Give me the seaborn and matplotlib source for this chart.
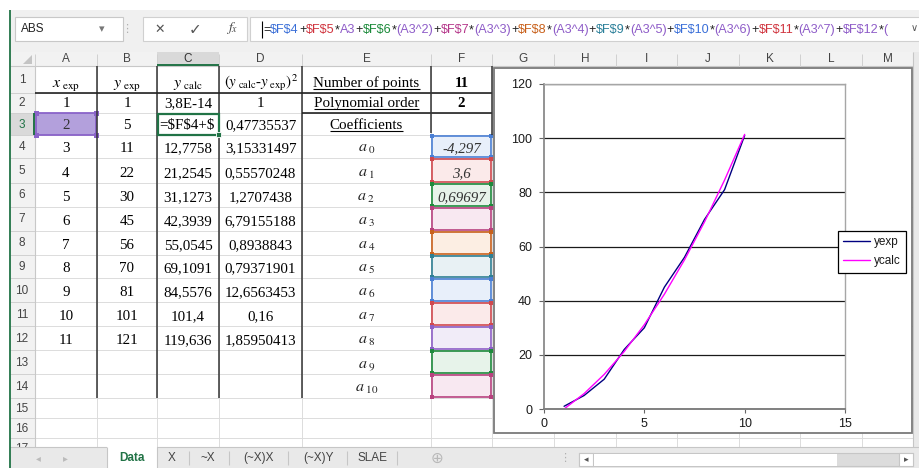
import matplotlib
matplotlib.use('Agg')
import matplotlib.pyplot as plt
import seaborn as sns
import pandas as pd
from matplotlib.patches import Rectangle, Polygon
from matplotlib.transforms import Bbox, TransformedBbox

# ---------------- data ----------------
x_exp = [1, 2, 3, 4, 5, 6, 7, 8, 9, 10, 11]
y_exp = [1, 5, 11, 22, 30, 45, 56, 70, 81, 101, 121]
y_calc = [3.8e-14, 5.6909, 12.7758, 21.2545, 31.1273, 42.3939, 55.0545,
          69.1091, 84.5576, 101.4, 119.636]
sq_err = [1, 0.47735537, 3.15331497, 0.55570248, 1.2707438, 6.79155188,
          0.8938843, 0.79371901, 12.6563453, 0.16, 1.85950413]
n_points = 11
poly_order = 2
coefficients = [-4.297, 3.6, 0.69697]
chart_points = 10
series_names = ['yexp', 'ycalc']
x_ticks = [0, 5, 10, 15]
y_ticks = [0, 20, 40, 60, 80, 100, 120]
col_letters = list('ABCDEFGHIJKLM')
sheet_tabs = ['Data', 'X', '~X', '(~X)X', '(~X)Y', 'SLAE']
info_labels = ['Number of points', 'Polynomial order', 'Coefficients']
active_formula_visible = '=$F$4+$'

sns.set_theme(style='white')
plt.rcParams['font.family'] = ['Liberation Sans', 'DejaVu Sans']
plt.rcParams['mathtext.fontset'] = 'stix'

W, H = 919, 468
fig = plt.figure(figsize=(W / 100, H / 100), dpi=100)
bg = fig.add_axes([0, 0, 1, 1])
bg.set_xlim(0, W)
bg.set_ylim(H, 0)
bg.axis('off')


def rect(x0, y0, x1, y1, fc='none', ec='none', lw=0.8, z=1):
    p = Rectangle((x0, y0), x1 - x0, y1 - y0, facecolor=fc, edgecolor=ec,
                  linewidth=lw, zorder=z)
    bg.add_patch(p)
    return p


def line(xs, ys, c, lw=0.8, z=2):
    bg.plot(xs, ys, color=c, lw=lw, zorder=z, solid_capstyle='butt')


def txt(x, y, s, size=10.8, family='Liberation Serif', ha='center',
        va='baseline', color='black', z=5, **kw):
    return bg.text(x, y, s, fontsize=size, family=family, ha=ha, va=va,
                   color=color, zorder=z, **kw)


renderer = fig.canvas.get_renderer()


def extent(t):
    bb = t.get_window_extent(renderer=renderer)
    return bb.x0, bb.x1


# reference colours
C_BLUE, C_RED, C_PURP = '#3A6FD8', '#D0343E', '#8E5CC8'
C_GREEN, C_MAG, C_ORNG, C_TEAL = '#1B8A3A', '#B5378A', '#C8601A', '#2A7F99'
XL_GREEN = '#217346'

# ---------------- chrome ----------------
rect(0, 0, W, H, 'white', z=0)
rect(10, 10, W, 52, '#F0F0F0', z=0.5)
rect(15, 17, 123, 41, 'white', '#C8C8C8')
txt(21, 29, 'ABS', size=8.5, family='Liberation Sans', ha='left', va='center', color='#222')
txt(102, 29, '\u25BE', size=8, family='DejaVu Sans', va='center', color='#777')
txt(127, 29, '\u22EE', size=8, family='DejaVu Sans', va='center', color='#B0B0B0')
rect(143, 17, 247, 41, 'white', '#D0D0D0')
txt(160, 29, '\u2715', size=9, family='DejaVu Sans', va='center', color='#555')
txt(195, 29.5, '\u2713', size=11, family='DejaVu Sans', va='center', color='#555')
txt(232, 28, r'$f_{x}$', size=10, va='center', color='#444')
rect(250, 17, W + 5, 41, 'white', '#D0D0D0')
txt(914, 28, '\u2228', size=7, family='DejaVu Sans', va='center', color='#555')
line([262, 262], [21, 38], 'black', lw=0.8, z=6)

# formula text with coloured references
k = '#222222'
pieces = [('=', k), ('$F$4', C_BLUE), ('+', k), ('$F$5', C_RED), ('*', k),
          ('A3', C_PURP), ('+', k)]
ref_cols = [C_GREEN, C_MAG, C_ORNG, C_TEAL, C_BLUE, C_RED]
for i, col in enumerate(ref_cols):
    pieces += [('$F$%d' % (6 + i), col), ('*', k), ('(A3^%d)' % (2 + i), C_PURP), ('+', k)]
pieces += [('$F$12', C_PURP), ('*', k), ('(', C_PURP)]

fsize = 9.0
probe = []
for s, c in pieces:
    probe.append(txt(0, 30, s.replace('$', r'\$'), size=fsize, family='Liberation Sans',
                     ha='left', va='center', color=c))
total = sum(extent(t)[1] - extent(t)[0] for t in probe)
for t in probe:
    t.remove()
fsize = fsize * 627 / total
xc = 263
for s, c in pieces:
    t = txt(xc, 30, s.replace('$', r'\$'), size=fsize, family='Liberation Sans',
            ha='left', va='center', color=c)
    x0, x1 = extent(t)
    xc += x1 - x0

# ---------------- sheet grid ----------------
R = [66, 93, 113, 135, 158, 183, 207, 231, 255, 278, 302, 326, 350, 374, 398, 418, 438, 458]
CB = [35, 97, 157, 219, 302, 431, 492, 554, 616, 677, 739, 800, 862, 913]

rect(10, 52, 913, 66, '#F2F2F2', z=0.6)
rect(157, 52, 219, 66, '#D9D9D9', z=0.7)
for xb in CB:
    line([xb, xb], [54, 66], '#D0D0D0', lw=0.7)
line([10, 913], [66, 66], '#C8C8C8', lw=0.8)
line([157, 219], [65.3, 65.3], XL_GREEN, lw=1.4, z=3)
for i, letter in enumerate(col_letters):
    txt((CB[i] + CB[i + 1]) / 2, 59.5, letter, size=8.5, family='Liberation Sans',
        va='center', color='#333' if letter == 'C' else '#444')
bg.add_patch(Polygon([[32, 55], [32, 64], [23, 64]], closed=True, facecolor='#C4C4C4',
                     edgecolor='none', zorder=2))

rect(10, 66, 35, 447, '#F2F2F2', z=0.6)
rect(10, R[2], 35, R[3], '#D9D9D9', z=0.7)
rect(35, 66, 913, 447, 'white', z=0.6)
for yb in R[1:]:
    line([10, 35], [yb, yb], '#D0D0D0', lw=0.7)
    line([35, 913], [yb, yb], '#DCDCDC', lw=0.7)
for xb in CB:
    line([xb, xb], [66, 447], '#DCDCDC', lw=0.7)
line([35, 35], [66, 447], '#C8C8C8', lw=0.8)
line([34.3, 34.3], [R[2], R[3]], XL_GREEN, lw=1.4, z=3)
for r in range(1, 18):
    txt(22, (R[r - 1] + R[r]) / 2 + 0.5, str(r), size=8.5, family='Liberation Sans',
        va='center', color=XL_GREEN if r == 3 else '#444')

# selection A3
rect(CB[0] + 1, R[2], CB[1] - 1, R[3], '#B3A0DC', '#8A63C9', lw=1.3, z=2.5)
for hx in (CB[0] + 1, CB[1] - 1):
    for hy in (R[2], R[3]):
        rect(hx - 2.5, hy - 2.5, hx + 2.5, hy + 2.5, '#8A63C9', z=2.6)

# coloured reference boxes F4..F14
box_cols = [('#4A7FD4', '#E8EFFA'), ('#D0484E', '#FBEAEA'), ('#1E8A3C', '#E7F3EA'),
            ('#B8427F', '#F8E8F1'), ('#C9611C', '#FCEEE3'), ('#2F7F93', '#E8F1F4'),
            ('#4A7FD4', '#E8EFFA'), ('#D0484E', '#FBEAEA'), ('#8D5FC6', '#F1ECF8'),
            ('#1E8A3C', '#E7F3EA'), ('#B8427F', '#F8E8F1')]
for i, (ec, fc) in enumerate(box_cols):
    y0, y1 = R[3 + i] + 1, R[4 + i] - 1
    rect(432, y0, 491, y1, fc, ec, lw=1.2, z=2.5)
    for hx in (432, 491):
        for hy in (y0, y1):
            rect(hx - 2.3, hy - 2.3, hx + 2.3, hy + 2.3, ec, z=2.6)

# black borders
for xb in (97, 157, 219, 302):
    line([xb, xb], [66, 398], '#333333', lw=1.1, z=3)
line([35, 302], [93, 93], '#222222', lw=1.2, z=3)
line([302, 492], [93, 93], '#222222', lw=1.2, z=3)
line([302, 492], [113, 113], '#222222', lw=1.2, z=3)
line([431, 431], [66, 133], '#333333', lw=1.1, z=3)
line([492, 492], [66, 135], '#333333', lw=1.1, z=3)

# active cell C3
rect(CB[2] + 0.5, R[2] + 0.5, CB[3] - 0.5, R[3] - 0.5, 'none', XL_GREEN, lw=1.6, z=4)
rect(CB[3] - 3, R[3] - 3, CB[3] + 2, R[3] + 2, XL_GREEN, 'white', lw=0.6, z=4.1)

# ---------------- cell contents ----------------
cx = [(CB[i] + CB[i + 1]) / 2 for i in range(6)]


def base(r):
    return R[r] - 6


txt(cx[0], base(1), r'$x_{\ \mathrm{exp}}$', size=11.5)
txt(cx[1], base(1), r'$y_{\ \mathrm{exp}}$', size=11.5)
txt(cx[2], base(1), r'$y_{\ \mathrm{calc}}$', size=11.5)
txt(cx[3] + 1, base(1), r'$(y_{\ \mathrm{calc}}$-$y_{\ \mathrm{exp}})^{2}$', size=10.8)


def fmt(v, d):
    return ('%.*g' % (d, v)).replace('.', ',').upper()


for i in range(len(x_exp)):
    r = i + 2
    txt(cx[0], base(r), str(x_exp[i]), color='#333' if r == 3 else 'black', z=6)
    txt(cx[1], base(r), str(y_exp[i]))
    if r == 3:
        t = txt(CB[2] + 2, base(r), active_formula_visible.replace('$', r'\$'), ha='left')
        t.set_clip_on(True)
        t.set_clip_box(TransformedBbox(Bbox.from_extents(CB[2] + 1, R[2], CB[3] - 2, R[3]),
                                       bg.transData))
    else:
        txt(cx[2], base(r), fmt(y_calc[i], 6))
    txt(cx[3], base(r), fmt(sq_err[i], 9))

for j, lab in enumerate(info_labels):
    t = txt(cx[4], base(j + 1), lab)
    x0, x1 = extent(t)
    line([x0, x1], [base(j + 1) + 2.2, base(j + 1) + 2.2], 'black', lw=0.8, z=5)

txt(cx[5], base(1), str(n_points), weight='bold')
txt(cx[5], base(2), str(poly_order), weight='bold')
for i in range(11):
    txt(cx[4], base(4 + i), r'$a_{\ %d}$' % i, size=11.5, color='#222')
for i, v in enumerate(coefficients):
    txt(cx[5], base(4 + i), fmt(v, 5), style='italic', color='#333', z=6)

# ---------------- chart ----------------
rect(493.5, 68, 912, 433, 'white', '#7A7A7A', lw=1.3, z=7)

ax = fig.add_axes([544 / W, 1 - 409 / H, (845 - 544) / W, (409 - 84) / H])
ax.set_zorder(8)
df = pd.DataFrame({
    'x': x_exp[:chart_points] * 2,
    'y': y_exp[:chart_points] + y_calc[:chart_points],
    'series': [series_names[0]] * chart_points + [series_names[1]] * chart_points,
})
sns.lineplot(data=df, x='x', y='y', hue='series',
             palette={series_names[0]: '#000080', series_names[1]: '#FF00FF'},
             estimator=None, sort=False, lw=1.0, ax=ax)
ax.set_xlim(0, 15)
ax.set_ylim(0, 120)
ax.set_xticks(x_ticks)
ax.set_yticks(y_ticks)
ax.set_xlabel('')
ax.set_ylabel('')
ax.set_axisbelow(True)
ax.yaxis.grid(True, color='#1A1A1A', lw=0.9)
ax.xaxis.grid(False)
for side in ('top', 'right'):
    ax.spines[side].set_color('#A6A6A6')
    ax.spines[side].set_linewidth(1.0)
ax.spines['left'].set_color('#808080')
ax.spines['left'].set_linewidth(1.2)
ax.spines['bottom'].set_color('#808080')
ax.spines['bottom'].set_linewidth(1.4)
ax.tick_params(axis='x', direction='out', length=2.9, width=0.8, color='#666',
               labelsize=9, labelcolor='#1A1A1A', pad=3.6, bottom=True)
ax.tick_params(axis='y', direction='out', length=3.6, width=0.8, color='#666',
               labelsize=9, labelcolor='#1A1A1A', pad=5, left=True)
for lab in ax.get_xticklabels() + ax.get_yticklabels():
    lab.set_family('Liberation Sans')

handles, labels = ax.get_legend_handles_labels()
leg = ax.legend(handles, labels, loc='upper left', bbox_to_anchor=(838 / W, 1 - 231 / H),
                bbox_transform=fig.transFigure, frameon=True, fancybox=False,
                edgecolor='black', framealpha=1, fontsize=8.5, handlelength=2.3,
                handletextpad=0.3, borderpad=0.45, labelspacing=0.6, borderaxespad=0,
                prop={'family': 'Liberation Sans', 'size': 8.5})
leg.get_frame().set_linewidth(0.9)
for t in leg.get_texts():
    t.set_color('#1A1A1A')

# ---------------- bottom tab bar ----------------
rect(10, 447, W, H, '#E9E9E9', z=9)
line([10, W], [447, 447], '#C6C6C6', lw=0.8, z=9.1)
rect(107, 446, 157, H, 'white', z=9.2)
line([107, 107], [447, H], '#C6C6C6', lw=0.8, z=9.3)
line([157, 157], [447, H], '#C6C6C6', lw=0.8, z=9.3)
tab_x = [132, 172, 208, 258, 318, 372]
for xs in (189, 229, 288, 347, 397):
    line([xs, xs], [451, 465], '#C6C6C6', lw=0.8, z=9.3)
for i, name in enumerate(sheet_tabs):
    txt(tab_x[i], 458, name, size=8.5, family='Liberation Sans', va='center',
        color=XL_GREEN if i == 0 else '#444', weight='bold' if i == 0 else 'normal', z=9.5)
txt(38, 458, '\u25C2', size=7, family='DejaVu Sans', va='center', color='#BBBBBB', z=9.5)
txt(65, 458, '\u25B8', size=7, family='DejaVu Sans', va='center', color='#BBBBBB', z=9.5)
txt(437, 458, '\u2295', size=11, family='DejaVu Sans', va='center', color='#B8B8B8', z=9.5)
txt(565, 458, '\u22EE', size=8, family='DejaVu Sans', va='center', color='#B0B0B0', z=9.5)
rect(579, 453, 913, 466, '#DCDCDC', '#C6C6C6', lw=0.8, z=9.4)
rect(579, 453, 593, 466, 'white', '#C6C6C6', lw=0.8, z=9.5)
rect(594, 453.5, 837, 465.5, 'white', z=9.5)
rect(899, 453, 913, 466, 'white', '#C6C6C6', lw=0.8, z=9.5)
txt(586, 459.5, '\u25C2', size=6.5, family='DejaVu Sans', va='center', color='#555', z=9.6)
txt(906, 459.5, '\u25B8', size=6.5, family='DejaVu Sans', va='center', color='#555', z=9.6)

# right scrollbar strip and window border
rect(913, 52, W, 447, '#E9E9E9', z=6.5)
line([913, 913], [52, 447], '#C6C6C6', lw=0.8, z=6.6)
line([9.5, 9.5], [10, H], XL_GREEN, lw=1.3, z=9.8)

fig.savefig('out.png', dpi=100)
